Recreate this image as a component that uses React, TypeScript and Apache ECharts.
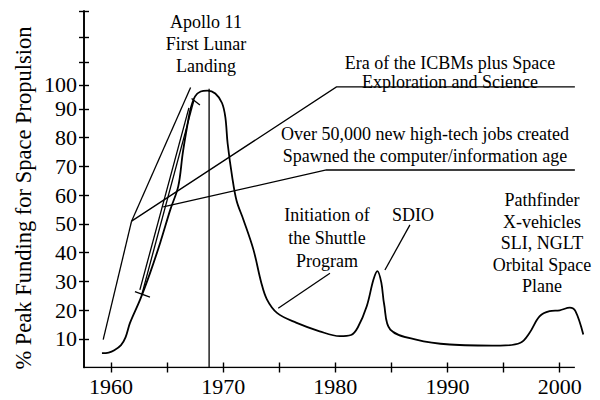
import React, { useEffect, useRef } from "react";
import * as echarts from "echarts";

// Funding curve (% of peak) by year
const curveYears = [
  1959.2, 1959.8, 1960.3, 1960.9, 1961.3, 1961.7, 1962.6, 1963.5, 1964.4, 1965.3,
  1966.0, 1966.4, 1966.8, 1967.1, 1967.5, 1968.0, 1968.6, 1969.3, 1969.9, 1970.2,
  1970.4, 1970.8, 1971.2, 1971.8, 1972.7, 1973.4, 1973.9, 1974.8, 1976.5, 1978.6,
  1980.4, 1981.4, 1982.0, 1982.8, 1983.4, 1983.75, 1984.1, 1984.35, 1984.9, 1987.2,
  1990.2, 1994.7, 1996.5, 1997.3, 1998.2, 1999.1, 2000.0, 2000.9, 2001.4, 2002.1,
];
const curveValues = [
  5.0, 5.2, 6.0, 7.8, 10.5, 15.5, 23.6, 33, 43.5, 55,
  63, 74.5, 84, 90, 94.3, 96, 96.3, 95.3, 92, 87,
  78, 66.5, 58, 51.5, 41, 29.5, 23.7, 19, 15.6, 12.6,
  10.9, 11.3, 13.9, 21.3, 30.6, 33.5, 29.5, 22, 13.2, 9.7,
  8, 7.6, 8.6, 12, 17.8, 19.6, 19.9, 20.8, 19.6, 11.5,
];

// Axis ticks and labels
const xTickValues = [1960, 1965, 1970, 1975, 1980, 1985, 1990, 1995, 2000];
const xLabelValues = [1960, 1970, 1980, 1990, 2000];
const yTickValues = [10, 20, 30, 40, 50, 60, 70, 80, 90, 98.3, 106.2, 114.7, 124];
const yLabelValues = [10, 20, 30, 40, 50, 60, 70, 80, 90, 98.3];
const yLabelTexts = ["10", "20", "30", "40", "50", "60", "70", "80", "90", "100"];
const xAxisExtent = [[1957.6, 0], [2001.35, 0]];

// Annotation leader lines (year, value)
const icbmLeader = [[1961.84, 50.9], [1980.1, 97.6], [2001.35, 97.6]];
const downArrowLeader = [[1961.84, 50.9], [1959.31, 9.7]];
const upLeader = [[1961.84, 50.9], [1967.1, 97.4]];
const jobsLeader = [[1964.66, 55.9], [1979.2, 68.7], [2001.35, 68.7]];
const slopeLineA = [[1962.74, 25.2], [1967.4, 93.0]];
const slopeLineB = [[1962.58, 27.0], [1966.95, 90.3]];
const crossLow = [[1962.14, 26.4], [1963.48, 24.5]];
const crossHigh = [[1967.19, 93.6], [1967.93, 91.3]];
const shuttleLeader = [[1979.52, 32.8], [1974.91, 20.6]];
const sdioLeader = [[1986.65, 49.6], [1984.42, 33.9]];
const apolloLine = [[1968.75, 0], [1968.75, 97]];

const FONT = "'Liberation Serif', 'Times New Roman', serif";

export default function App() {
  const ref = useRef<HTMLDivElement>(null);
  useEffect(() => {
    if (!ref.current) return;
    const chart = echarts.init(ref.current, undefined, { renderer: "svg" });
    const xMin = 1957.6;
    const xMax = 2002.2;
    const yMax = 124;
    const axisLineStyle = { color: "#000", width: 1.6 };
    const baseX = {
      type: "value",
      min: xMin,
      max: xMax,
      position: "bottom",
      splitLine: { show: false },
      axisLine: { show: false },
    };
    const baseY = {
      type: "value",
      min: 0,
      max: yMax,
      position: "left",
      splitLine: { show: false },
      axisLine: { show: true, lineStyle: axisLineStyle },
    };
    const seg = (coords: number[][], arrow = false, width = 1.3) => ({
      coords,
      symbol: arrow ? ["none", "arrow"] : ["none", "none"],
      symbolSize: arrow ? 7 : 0,
      lineStyle: { width },
    });
    const curveData = curveYears.map((y, i) => [y, curveValues[i]]);
    const text = (x: number, y: number, t: string, lh = 22) => ({
      type: "text",
      x,
      y,
      style: {
        text: t,
        font: `18px ${FONT}`,
        fill: "#000",
        textAlign: "center",
        textVerticalAlign: "middle",
        lineHeight: lh,
      },
    });
    chart.setOption({
      animation: false,
      backgroundColor: "#fff",
      grid: { left: 84, top: 11, width: (xMax - xMin) * 11.22, height: 356.5, containLabel: false },
      xAxis: [
        {
          ...baseX,
          axisTick: { show: true, customValues: xTickValues, length: 5, lineStyle: { color: "#000", width: 1.4 } },
          axisLabel: {
            show: true,
            customValues: xLabelValues,
            color: "#000",
            fontFamily: FONT,
            fontSize: 22,
            margin: 8,
            formatter: (v: number) => String(Math.round(v)),
          },
        },
        {
          ...baseX,
          axisTick: { show: true, inside: true, customValues: xTickValues, length: 5, lineStyle: { color: "#000", width: 1.4 } },
          axisLabel: { show: false },
        },
      ],
      yAxis: [
        {
          ...baseY,
          axisTick: { show: true, customValues: yTickValues, length: 5, lineStyle: { color: "#000", width: 1.4 } },
          axisLabel: {
            show: true,
            customValues: yLabelValues,
            color: "#000",
            fontFamily: FONT,
            fontSize: 22,
            margin: 7,
            formatter: (v: number) => {
              const i = yLabelValues.findIndex((q) => Math.abs(q - v) < 0.01);
              return i >= 0 ? yLabelTexts[i] : "";
            },
          },
        },
        {
          ...baseY,
          axisTick: { show: true, inside: true, customValues: yTickValues, length: 5, lineStyle: { color: "#000", width: 1.4 } },
          axisLabel: { show: false },
        },
      ],
      series: [
        {
          type: "line",
          data: curveData,
          smooth: 0.35,
          showSymbol: false,
          lineStyle: { color: "#000", width: 1.8 },
          xAxisIndex: 0,
          yAxisIndex: 0,
        },
        {
          type: "lines",
          coordinateSystem: "cartesian2d",
          polyline: true,
          xAxisIndex: 0,
          yAxisIndex: 0,
          lineStyle: { color: "#000", width: 1.3, opacity: 1 },
          data: [
            seg(xAxisExtent, false, 1.6),
            seg(icbmLeader),
            seg(downArrowLeader, true),
            seg(upLeader),
            seg(jobsLeader),
            seg(slopeLineA),
            seg(slopeLineB),
            seg(crossLow),
            seg(crossHigh),
            seg(shuttleLeader, true),
            seg(sdioLeader, true),
            seg(apolloLine),
          ],
        },
      ],
      graphic: [
        {
          type: "text",
          x: 23,
          y: 198,
          rotation: Math.PI / 2,
          style: {
            text: "% Peak Funding for Space Propulsion",
            font: `22.5px ${FONT}`,
            fill: "#000",
            textAlign: "center",
            textVerticalAlign: "middle",
          },
        },
        text(206, 44, "Apollo 11\nFirst Lunar\nLanding"),
        text(450, 72, "Era of the ICBMs plus Space\nExploration and Science", 19),
        text(425, 145, "Over 50,000 new high-tech jobs created\nSpawned the computer/information age"),
        text(327, 238, "Initiation of\nthe Shuttle\nProgram", 23),
        text(413, 215, "SDIO"),
        text(542, 243, "Pathfinder\nX-vehicles\nSLI, NGLT\nOrbital Space\nPlane", 21.5),
      ],
    });
    return () => chart.dispose();
  }, []);
  return <div ref={ref} style={{ width: 600, height: 400, position: "absolute", left: 0, top: 0 }} />;
}
